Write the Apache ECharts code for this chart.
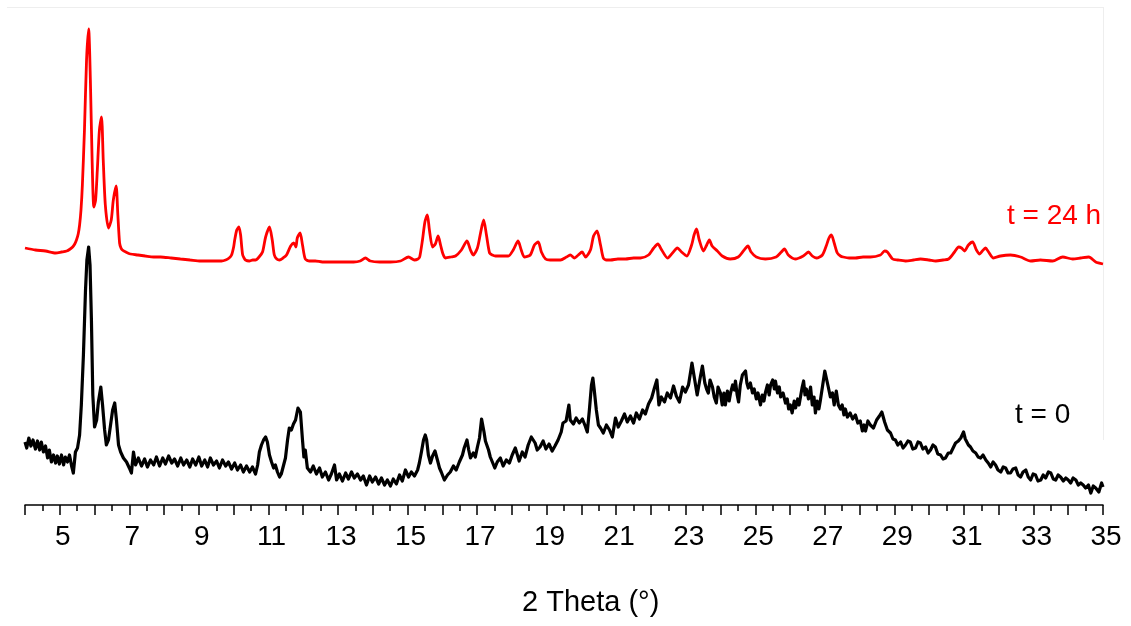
<!DOCTYPE html>
<html>
<head>
<meta charset="utf-8">
<title>XRD t = 0 / t = 24 h</title>
<script src="https://cdn.jsdelivr.net/npm/echarts@6/dist/echarts.min.js"></script>
<style>
  html, body { margin: 0; padding: 0; background: #fff; }
  #chart { width: 1131px; height: 626px; }
</style>
</head>
<body>
<div id="chart"></div>
<script>
// [2theta (deg), intensity (a.u., offset plot)]
var pattern24h = [
  [4.00,257],[4.30,255],[4.59,254],[4.88,252],[5.05,253],[5.20,254],[5.30,256],[5.37,258],[5.43,261],
  [5.48,265],[5.53,271],[5.57,280],[5.61,295],
  [5.65,320],[5.71,375],[5.77,445],[5.83,476],[5.88,425],[5.93,345],[5.98,298],[6.03,305],
  [6.08,335],[6.14,375],[6.20,388],[6.25,345],[6.31,300],[6.40,277],[6.48,285],[6.54,305],
  [6.62,319],[6.67,290],[6.72,262],[6.76,257],[6.80,255],[6.90,253],[7.03,251],[7.25,250],[7.46,249],
  [7.70,248],[7.90,248],[8.20,247],[8.47,246],[8.75,245],
  [9.05,244],[9.30,244],[9.48,244],[9.65,244],[9.77,245],[9.87,247],[9.94,250],[10.00,258],[10.03,265],
  [10.09,275],[10.15,278],[10.20,270],[10.23,259],
  [10.26,250],[10.30,247],[10.34,245],[10.45,244],[10.55,245],[10.63,245],[10.73,248],[10.83,253],
  [10.92,268],[11.03,278],[11.11,265],[11.17,250],[11.24,246],
  [11.32,245],[11.42,247],[11.52,250],[11.64,259],[11.73,262],[11.79,258],[11.83,267],[11.91,272],[11.98,260],
  [12.06,246],[12.18,244],[12.35,244],[12.55,243],[12.78,243],[13.00,243],[13.21,243],[13.45,243],[13.64,244],
  [13.79,247],[13.93,244],[14.20,243],[14.51,243],
  [14.80,244],[15.03,248],[15.20,245],[15.30,246],[15.35,248],[15.43,265],[15.50,283],[15.57,290],[15.63,275],
  [15.72,258],[15.80,261],[15.88,269],[15.95,260],[16.02,251],[16.09,247],[16.25,248],[16.38,249],[16.55,255],[16.71,264],
  [16.81,255],[16.89,250],[17.01,257],[17.10,272],[17.19,285],[17.27,270],[17.36,252],[17.44,250],[17.53,249],
  [17.70,249],[17.90,249],[18.04,255],[18.18,264],[18.27,255],[18.36,248],[18.53,250],[18.65,260],[18.76,263],
  [18.85,253],[18.97,246],[19.10,245],[19.25,245],[19.40,245],[19.57,248],[19.68,250],[19.80,247],[19.91,250],[20.02,253],
  [20.12,248],[20.26,255],[20.35,269],[20.45,274],[20.55,260],[20.63,247],[20.72,245],[20.84,245],[21.05,246],[21.27,246],
  [21.50,247],[21.70,247],[21.93,250],[22.08,257],[22.20,261],[22.31,255],[22.48,247],[22.62,252],[22.76,257],
  [22.88,253],[23.03,249],[23.17,260],[23.24,270],[23.31,276],[23.39,265],[23.51,254],[23.59,259],
  [23.68,265],[23.76,259],[23.91,254],[24.05,249],[24.28,246],[24.51,248],[24.68,255],[24.79,259],
  [24.88,253],[25.03,248],[25.29,246],[25.60,248],[25.75,253],[25.84,256],[25.95,250],[26.15,246],
  [26.38,249],[26.53,253],[26.64,249],[26.76,247],[26.93,250],[27.04,259],[27.12,267],[27.19,270],
  [27.27,262],[27.36,252],[27.45,249],[27.53,248],[27.70,247],[27.88,247],[28.10,248],[28.31,248],[28.60,250],[28.72,254],[28.80,253],
  [28.95,246],[29.10,245],[29.32,244],[29.55,245],[29.75,246],[30.00,245],[30.19,244],[30.40,245],[30.56,246],[30.73,253],[30.85,258],[30.93,257],
  [31.02,254],[31.13,260],[31.25,263],[31.36,255],[31.45,251],[31.53,254],[31.62,257],[31.71,253],
  [31.85,247],[32.05,249],[32.34,250],[32.63,248],[32.92,244],[33.20,245],[33.55,244],[33.84,248],
  [34.13,246],[34.36,247],[34.59,248],[34.79,243],[35.00,241]
];

var pattern0h = [
  [4.00,63],[4.05,57],[4.11,67],[4.17,59],[4.23,65],[4.30,56],[4.36,64],[4.42,55],[4.47,63],
  [4.53,53],[4.59,59],[4.65,47],[4.70,55],[4.76,43],[4.82,50],[4.88,42],[4.93,49],[4.99,41],
  [5.05,50],[5.11,40],[5.16,48],[5.22,43],[5.28,50],[5.34,39],[5.39,32],[5.45,53],[5.51,57],
  [5.57,70],[5.62,100],[5.68,150],[5.74,215],[5.78,245],[5.83,258],[5.87,240],[5.91,185],
  [5.95,110],[6.00,78],[6.06,85],[6.11,103],[6.18,118],[6.23,100],[6.29,75],[6.34,60],[6.40,65],
  [6.46,80],[6.52,95],[6.58,102],[6.63,85],[6.69,60],[6.75,53],[6.83,47],[6.92,43],[7.00,37],
  [7.06,32],[7.12,53],[7.18,40],[7.26,47],[7.35,39],[7.44,46],[7.52,38],[7.61,45],[7.70,40],
  [7.78,48],[7.87,39],[7.96,47],[8.04,41],[8.13,49],[8.22,42],[8.30,46],[8.39,39],[8.48,47],
  [8.56,40],[8.65,45],[8.74,38],[8.82,46],[8.91,40],[9.00,48],[9.08,39],[9.17,45],[9.25,38],
  [9.33,47],[9.42,40],[9.51,44],[9.59,37],[9.68,45],[9.77,39],[9.85,43],[9.94,36],[10.03,42],
  [10.11,35],[10.20,40],[10.28,33],[10.37,39],[10.46,33],[10.54,38],[10.63,31],[10.69,40],
  [10.74,53],[10.80,60],[10.86,65],[10.92,68],[10.97,63],[11.03,50],[11.09,43],[11.15,37],
  [11.20,40],[11.26,33],[11.32,28],[11.37,31],[11.43,39],[11.49,47],[11.55,65],[11.60,77],
  [11.66,75],[11.72,81],[11.78,85],[11.85,97],[11.92,93],[11.98,65],[12.02,48],[12.06,55],
  [12.12,37],[12.21,33],[12.29,39],[12.38,31],[12.47,37],[12.55,28],[12.64,33],[12.73,25],
  [12.81,31],[12.90,40],[12.96,25],[13.04,31],[13.13,24],[13.22,32],[13.30,26],[13.39,33],
  [13.47,27],[13.56,31],[13.65,25],[13.73,29],[13.82,20],[13.91,29],[13.99,23],[14.08,28],
  [14.17,21],[14.25,27],[14.34,20],[14.42,25],[14.51,19],[14.59,26],[14.68,21],[14.77,30],
  [14.85,24],[14.94,35],[15.03,28],[15.11,33],[15.20,29],[15.29,35],[15.34,42],[15.40,53],
  [15.46,65],[15.51,70],[15.55,65],[15.60,50],[15.66,42],[15.72,49],[15.79,54],[15.86,45],
  [15.92,37],[15.97,33],[16.06,25],[16.15,30],[16.23,33],[16.32,39],[16.40,35],[16.49,43],
  [16.58,50],[16.63,57],[16.71,65],[16.76,55],[16.81,47],[16.89,52],[16.95,48],[17.01,58],
  [17.07,67],[17.13,86],[17.20,73],[17.24,64],[17.33,55],[17.38,48],[17.44,43],[17.51,37],
  [17.58,43],[17.67,47],[17.75,39],[17.84,45],[17.93,42],[18.01,50],[18.10,57],[18.16,50],
  [18.21,44],[18.30,53],[18.38,48],[18.47,60],[18.56,68],[18.61,66],[18.67,62],[18.73,55],
  [18.81,58],[18.90,64],[18.98,56],[19.07,61],[19.16,54],[19.24,59],[19.33,65],[19.42,73],
  [19.47,82],[19.56,84],[19.64,100],[19.68,85],[19.77,81],[19.85,87],[19.94,82],[20.03,86],
  [20.11,79],[20.17,73],[20.23,95],[20.29,120],[20.33,127],[20.37,115],[20.43,95],[20.49,80],
  [20.55,77],[20.63,72],[20.72,80],[20.81,75],[20.89,68],[20.98,87],[21.06,78],[21.15,84],
  [21.24,91],[21.32,83],[21.41,89],[21.50,82],[21.58,92],[21.67,86],[21.76,95],[21.84,91],
  [21.93,101],[22.02,107],[22.10,117],[22.17,125],[22.23,100],[22.30,108],[22.39,103],[22.47,112],
  [22.56,107],[22.65,119],[22.73,109],[22.82,103],[22.91,118],[22.99,113],[23.08,120],[23.14,133],
  [23.18,142],[23.25,127],[23.33,110],[23.42,128],[23.48,139],[23.55,122],[23.60,116],[23.65,112],
  [23.70,125],[23.77,118],[23.82,108],[23.88,102],[23.93,118],[24.00,112],[24.05,100],[24.10,112],
  [24.14,100],[24.20,114],[24.25,104],[24.29,112],[24.35,120],[24.40,115],[24.43,124],[24.48,110],
  [24.52,103],[24.57,120],[24.63,130],[24.68,128],[24.72,134],[24.76,122],[24.80,117],[24.86,122],
  [24.92,112],[24.97,116],[25.03,106],[25.08,112],[25.15,100],[25.20,110],[25.25,104],[25.29,112],
  [25.35,120],[25.40,110],[25.44,120],[25.50,125],[25.55,116],[25.58,124],[25.64,112],[25.69,118],
  [25.73,108],[25.80,112],[25.87,102],[25.92,106],[25.96,96],[26.01,100],[26.06,92],[26.12,104],
  [26.16,97],[26.22,106],[26.26,100],[26.30,108],[26.35,118],[26.39,124],[26.43,110],[26.47,116],
  [26.53,106],[26.59,118],[26.64,100],[26.69,108],[26.73,92],[26.78,104],[26.83,96],[26.87,104],
  [26.94,120],[27.00,134],[27.05,126],[27.10,118],[27.16,108],[27.22,112],[27.27,100],[27.33,114],
  [27.39,100],[27.45,96],[27.50,100],[27.55,90],[27.59,96],[27.65,88],[27.73,92],[27.80,86],
  [27.88,90],[27.95,82],[28.02,84],[28.08,74],[28.13,80],[28.17,74],[28.24,84],[28.31,80],
  [28.40,77],[28.49,85],[28.57,89],[28.64,93],[28.72,83],[28.80,75],[28.89,72],[28.96,66],
  [29.03,65],[29.10,60],[29.18,63],[29.25,57],[29.32,60],[29.39,64],[29.46,63],[29.53,56],
  [29.61,57],[29.68,63],[29.75,62],[29.82,56],[29.90,58],[29.97,52],[30.04,55],[30.11,60],
  [30.18,58],[30.25,51],[30.33,50],[30.40,46],[30.47,47],[30.55,52],[30.62,52],[30.69,57],
  [30.76,62],[30.84,64],[30.91,67],[30.99,73],[31.04,66],[31.08,65],[31.13,60],[31.19,58],
  [31.26,54],[31.34,52],[31.41,48],[31.48,47],[31.55,50],[31.63,45],[31.70,42],[31.77,38],
  [31.84,43],[31.91,40],[31.98,35],[32.06,33],[32.13,38],[32.20,37],[32.27,32],[32.34,32],
  [32.41,36],[32.49,37],[32.56,30],[32.63,28],[32.70,33],[32.78,35],[32.85,28],[32.92,25],
  [32.99,31],[33.06,30],[33.13,24],[33.21,25],[33.28,30],[33.35,27],[33.43,33],[33.50,32],
  [33.57,26],[33.64,25],[33.71,30],[33.78,28],[33.86,24],[33.93,27],[34.00,25],[34.07,22],
  [34.14,27],[34.22,25],[34.29,20],[34.36,22],[34.43,20],[34.50,17],[34.58,20],[34.65,12],
  [34.72,19],[34.79,17],[34.88,13],[34.96,22],[35.00,18]
];

var seriesNames = ['t = 24 h', 't = 0'];
var seriesColors = ['#ff0000', '#000000'];

var chart = echarts.init(document.getElementById('chart'));

var options = {
  backgroundColor: '#ffffff',
  animation: false,
  grid: {
    left: 25,
    right: 28,
    top: 8,
    bottom: 121
  },
  xAxis: {
    type: 'value',
    min: 4,
    max: 35,
    interval: 1,
    axisLine: { lineStyle: { color: '#000', width: 1.5 } },
    axisTick: { length: 10, lineStyle: { color: '#000', width: 1.5 } },
    minorTick: { show: true, splitNumber: 2, length: 6, lineStyle: { color: '#000', width: 1.5 } },
    splitLine: { show: false },
    axisLabel: {
      margin: 18,
      padding: [0, 0, 0, 6],
      color: '#000',
      fontSize: 28,
      fontFamily: 'Liberation Sans, Arial, sans-serif',
      formatter: function (v) {
        return v % 2 === 1 ? String(v) : '';
      }
    }
  },
  yAxis: {
    type: 'value',
    min: 0,
    max: 497,
    show: false
  },
  graphic: [
    { type: 'line', shape: { x1: 7, y1: 7.5, x2: 1103, y2: 7.5 }, style: { stroke: '#eeeeee', lineWidth: 1 } },
    { type: 'line', shape: { x1: 1103.5, y1: 7, x2: 1103.5, y2: 440 }, style: { stroke: '#eeeeee', lineWidth: 1 } },
    {
      type: 'text', left: 1007, top: 202,
      style: { text: seriesNames[0], fill: seriesColors[0], fontSize: 28, fontFamily: 'Liberation Sans, Arial, sans-serif' }
    },
    {
      type: 'text', left: 1015, top: 401,
      style: { text: seriesNames[1], fill: seriesColors[1], fontSize: 28, fontFamily: 'Liberation Sans, Arial, sans-serif' }
    },
    {
      type: 'text', left: 522, top: 588,
      style: { text: '2 Theta (°)', fill: '#000', fontSize: 29, fontFamily: 'Liberation Sans, Arial, sans-serif' }
    }
  ],
  series: [
    {
      name: seriesNames[0],
      type: 'line',
      data: pattern24h,
      showSymbol: false,
      smooth: 0.25,
      lineStyle: { color: seriesColors[0], width: 2.8 },
      z: 2
    },
    {
      name: seriesNames[1],
      type: 'line',
      data: pattern0h,
      showSymbol: false,
      lineStyle: { color: seriesColors[1], width: 3.2, join: 'round' },
      z: 3
    }
  ]
};

chart.setOption(options);
</script>
</body>
</html>
